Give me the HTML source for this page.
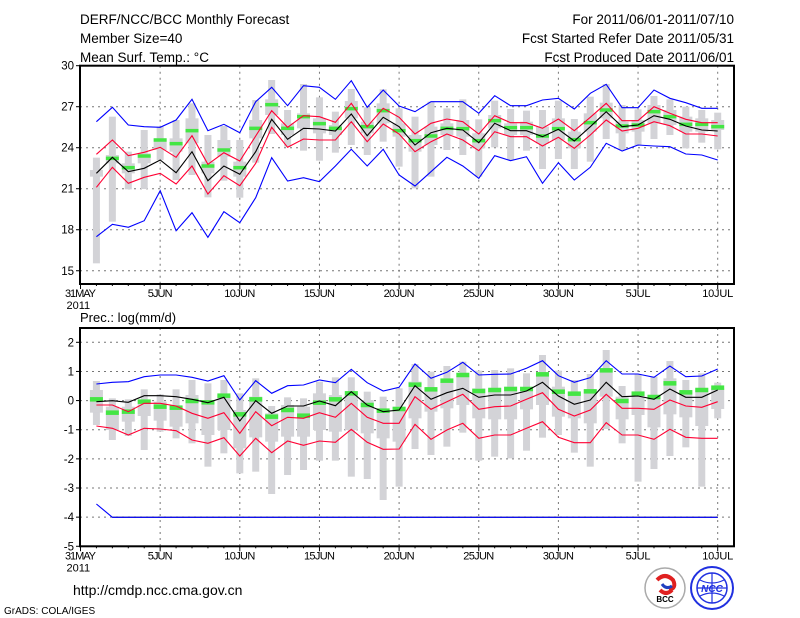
<!DOCTYPE html>
<html><head><meta charset="utf-8"><style>
html,body{margin:0;padding:0;background:#fff;width:800px;height:618px;overflow:hidden}
svg text{font-family:"Liberation Sans",sans-serif;fill:#000}
</style></head><body>
<svg id="s" width="800" height="618" xmlns="http://www.w3.org/2000/svg">
<text x="80" y="24" font-size="13.5">DERF/NCC/BCC Monthly Forecast</text>
<text x="80" y="43" font-size="13.5">Member Size=40</text>
<text x="80" y="62" font-size="13.5">Mean Surf. Temp.: °C</text>
<text x="734" y="24" font-size="13.5" text-anchor="end">For 2011/06/01-2011/07/10</text>
<text x="734" y="43" font-size="13.5" text-anchor="end">Fcst Started Refer Date 2011/05/31</text>
<text x="734" y="62" font-size="13.5" text-anchor="end">Fcst Produced Date 2011/06/01</text>
<text x="80" y="322" font-size="13">Prec.: log(mm/d)</text>
<text x="73" y="595" font-size="14">http://cmdp.ncc.cma.gov.cn</text>
<text x="4" y="614" font-size="10">GrADS: COLA/IGES</text>
<g>
<circle cx="665" cy="588" r="20" fill="#fff" stroke="#aaa" stroke-width="1.5"/>
<path d="M657 580 q8 -8 16 0 q4 8 -4 10 M660 590 q6 6 12 0" fill="none" stroke="#e02020" stroke-width="4"/>
<path d="M662 584 q4 6 10 2" fill="none" stroke="#2040c0" stroke-width="3"/>
<text x="665" y="602" font-size="8" text-anchor="middle" font-weight="bold">BCC</text>
<circle cx="712" cy="588" r="21" fill="#fff" stroke="#2030e0" stroke-width="2"/>
<circle cx="712" cy="588" r="15" fill="none" stroke="#2030e0" stroke-width="1.5"/>
<path d="M697 588 h30 M712 573 v30 M700 580 q12 6 24 0 M700 596 q12 -6 24 0" stroke="#2030e0" fill="none" stroke-width="1.2"/>
<text x="712" y="592" font-size="10" text-anchor="middle" fill="#2030e0" style="fill:#2030e0" font-style="italic" font-weight="bold">NCC</text>
</g>
</svg>
<script>
var S=document.getElementById('s'),NS='http://www.w3.org/2000/svg',out='';
function X(d){return 80.5+15.93*d;}
function add(s){out+=s;}
// convert zoom coords: days 1..19 from first list, 20..40 from second, off=offset
function cv(a,off){return a.map(function(z){return off+z/3;});}
function poly(ys,col,start){var p=[];for(var i=0;i<ys.length;i++){p.push(X(i+(start||1)).toFixed(1)+','+ys[i].toFixed(1));}add('<polyline points="'+p.join(' ')+'" fill="none" stroke="'+col+'" stroke-width="1.1"/>');}
function panel(y0,y1,ticks,fy){
 // grid
 for(var d=5;d<=40;d+=5){add('<line x1="'+X(d)+'" y1="'+y0+'" x2="'+X(d)+'" y2="'+y1+'" stroke="#777" stroke-width="1" stroke-dasharray="2,4"/>');}
 ticks.forEach(function(t){var y=fy(t);if(y>y0+2&&y<y1-2)add('<line x1="80" y1="'+y+'" x2="734" y2="'+y+'" stroke="#777" stroke-width="1" stroke-dasharray="2,4"/>');
 add('<line x1="76" y1="'+y+'" x2="80" y2="'+y+'" stroke="#000"/>');
 add('<text x="74" y="'+(y+4)+'" font-size="11.5" text-anchor="end">'+t+'</text>');});
}
function frame(y0,y1){add('<rect x="80" y="'+y0+'" width="654" height="'+(y1-y0)+'" fill="none" stroke="#000" stroke-width="2"/>');
 for(var d=0;d<=40;d++){var l=(d%5==0)?5:2;add('<line x1="'+X(d)+'" y1="'+y1+'" x2="'+X(d)+'" y2="'+(y1+l)+'" stroke="#000"/>');}
 var lab=['31MAY','5JUN','10JUN','15JUN','20JUN','25JUN','30JUN','5JUL','10JUL'];
 for(var i=0;i<9;i++){add('<text x="'+X(i*5)+'" y="'+(y1+13)+'" font-size="11" text-anchor="middle" textLength="'+(lab[i].length*6.2)+'">'+lab[i]+'</text>');}
 add('<text x="'+(X(0)-14)+'" y="'+(y1+25)+'" font-size="11">2011</text>');
}
function grey(wh,bx,off){for(var i=0;i<wh.length;i++){var x=X(i+1),w=wh[i],b=bx[i];
 add('<rect x="'+(x-3.5)+'" y="'+(off+w[0]/3)+'" width="7" height="'+((w[1]-w[0])/3)+'" fill="#d3d3d7"/>');
 add('<rect x="'+(x-6.5)+'" y="'+(off+b[0]/3)+'" width="13" height="'+((b[1]-b[0])/3)+'" fill="#d3d3d7"/>');}}
function green(g,off,h){for(var i=0;i<g.length;i++){if(g[i]==null)continue;add('<rect x="'+(X(i+1)-6.5)+'" y="'+(off+g[i]/3-h/2)+'" width="13" height="'+h+'" fill="#44e644"/>');}}

// ===== TOP PANEL =====
var T0=65.7,T1=284;
panel(T0,T1,[15,18,21,24,27,30],function(v){return 65.7+(30-v)*13.67;});
var wh1=[[293,610],[170,485],[275,388],[210,387],[200,300],[180,360],[130,345],[225,412],[198,362],[240,413],[120,308],[60,222],[150,260],[72,272],[112,302],[155,278],[87,255],[142,285],[88,245],
[145,320],[170,385],[125,350],[145,270],[118,285],[178,350],[122,262],[147,300],[152,272],[150,327],[122,297],[177,327],[110,305],[72,237],[135,270],[148,255],[108,237],[118,225],[140,265],[150,248],[158,268]];
var bx1=[[330,350],[285,310],[310,340],[280,310],[235,270],[235,275],[175,250],[305,340],[240,290],[305,350],[180,235],[118,165],[190,225],[160,205],[175,220],[195,225],[123,175],[185,220],[130,190],
[190,230],[225,275],[200,255],[190,225],[180,230],[220,265],[165,205],[190,225],[185,225],[200,250],[175,240],[215,265],[160,215],[128,175],[185,220],[180,215],[135,190],[150,195],[170,215],[175,215],[180,210]];
grey(wh1,bx1,60);
var tg=[null,295,323,288,240,251,212,318,270,323,205,134,205,170,191,205,146,200,152,212,242,228,205,206,242,182,203,203,228,206,239,188,150,198,195,155,170,193,193,200];
green(tg,60,3.5);
poly(cv([185,142,195,200,202,180,118,212,193,218,125,82,137,77,82,118,62,142,90,138,155,125,125,125,160,107,137,137,120,115,147,100,73,143,143,90,115,128,145,145],60),'#0000ff');
poly(cv([283,240,287,277,262,292,227,313,278,303,228,152,202,167,170,187,130,200,145,172,222,190,177,185,222,167,188,188,205,177,212,172,130,182,182,140,160,178,188,188],60),'#ff0033');
poly(cv([340,292,335,325,300,338,275,362,318,343,275,178,238,205,207,213,162,227,172,200,255,218,205,210,248,190,212,212,230,208,243,200,155,200,195,167,178,198,210,213],60),'#000');
poly(cv([382,322,370,352,340,372,318,402,347,377,310,202,262,237,240,240,185,245,192,222,275,245,222,240,272,215,230,230,258,232,265,225,180,213,205,185,197,222,222,228],60),'#ff0033');
poly([236.7,224.3,227.3,220.7,190.7,230.7,212.7,237.3,211.7,222.7,197.7,157.7,181,177.7,181.7,166,149.3,166,149.3,175,186,171.7,157.3,166,178.3,155.7,160.7,156.7,183.3,162.7,180,167.3,143.3,151,145,146,146.7,154,155,160],'#0000ff');
frame(T0,T1);

// ===== BOTTOM PANEL =====
var B0=328,B1=546.3;
panel(B0,B1,[2,1,0,-1,-2,-3,-4,-5],function(v){return 342.3+(2-v)*29.14;});
var wh2=[[153,285],[205,330],[208,318],[178,360],[193,305],[178,325],[150,340],[160,410],[150,370],[190,430],[145,425],[228,492],[202,435],[205,420],[155,392],[142,392],[142,440],[185,447],[200,510],
[175,470],[102,357],[125,375],[108,350],[95,308],[122,392],[120,380],[115,385],[130,362],[75,323],[122,315],[150,368],[132,410],[60,297],[168,340],[133,455],[140,417],[93,378],[150,352],[130,470],[158,265]];
var bx2=[[180,248],[230,300],[230,275],[210,258],[215,272],[228,290],[195,280],[210,315],[195,300],[240,355],[200,322],[250,335],[225,320],[230,320],[190,300],[195,305],[185,300],[210,310],[240,325],
[230,335],[155,265],[175,245],[155,235],[140,225],[175,265],[175,268],[170,268],[175,238],[130,225],[170,260],[185,265],[180,280],[115,200],[200,268],[185,255],[195,292],[145,253],[180,262],[175,288],[175,237]];
grey(wh2,bx2,330);
green([208,248,245,215,230,233,213,217,197,253,208,260,240,257,218,208,190,225,242,237,164,178,152,135,183,180,177,177,133,185,191,184,121,213,191,201,160,187,180,173],330,4.5);
poly(cv([162,157,155,140,135,135,142,153,137,210,152,190,167,165,150,158,118,158,183,172,102,145,127,97,135,133,132,115,92,137,157,143,92,132,132,142,108,140,138,117],330),'#0000ff');
poly(cv([225,225,245,220,220,228,250,265,248,310,245,287,262,265,248,262,220,262,280,280,200,238,215,193,238,230,228,208,188,238,258,240,193,235,235,238,210,228,232,215],330),'#ff0033');
poly(cv([215,212,217,197,197,200,208,218,202,273,212,250,228,228,213,227,185,225,245,240,167,208,188,175,202,195,195,183,157,198,223,210,157,200,198,208,177,202,202,180],330),'#000');
poly(cv([288,295,315,295,297,302,330,340,323,378,325,368,333,346,333,337,298,337,358,357,283,328,300,280,325,315,315,295,275,322,338,338,278,315,315,328,298,322,325,325],330),'#ff0033');
var lb=[504];for(var i=1;i<40;i++)lb.push(517.3);
add('<line x1="'+X(2)+'" y1="517.3" x2="'+X(40)+'" y2="517.3" stroke="#000" stroke-width="1"/>');
poly(lb,'#0000ff');
frame(B0,B1);
S.insertAdjacentHTML('afterbegin',out);
</script>
</body></html>
